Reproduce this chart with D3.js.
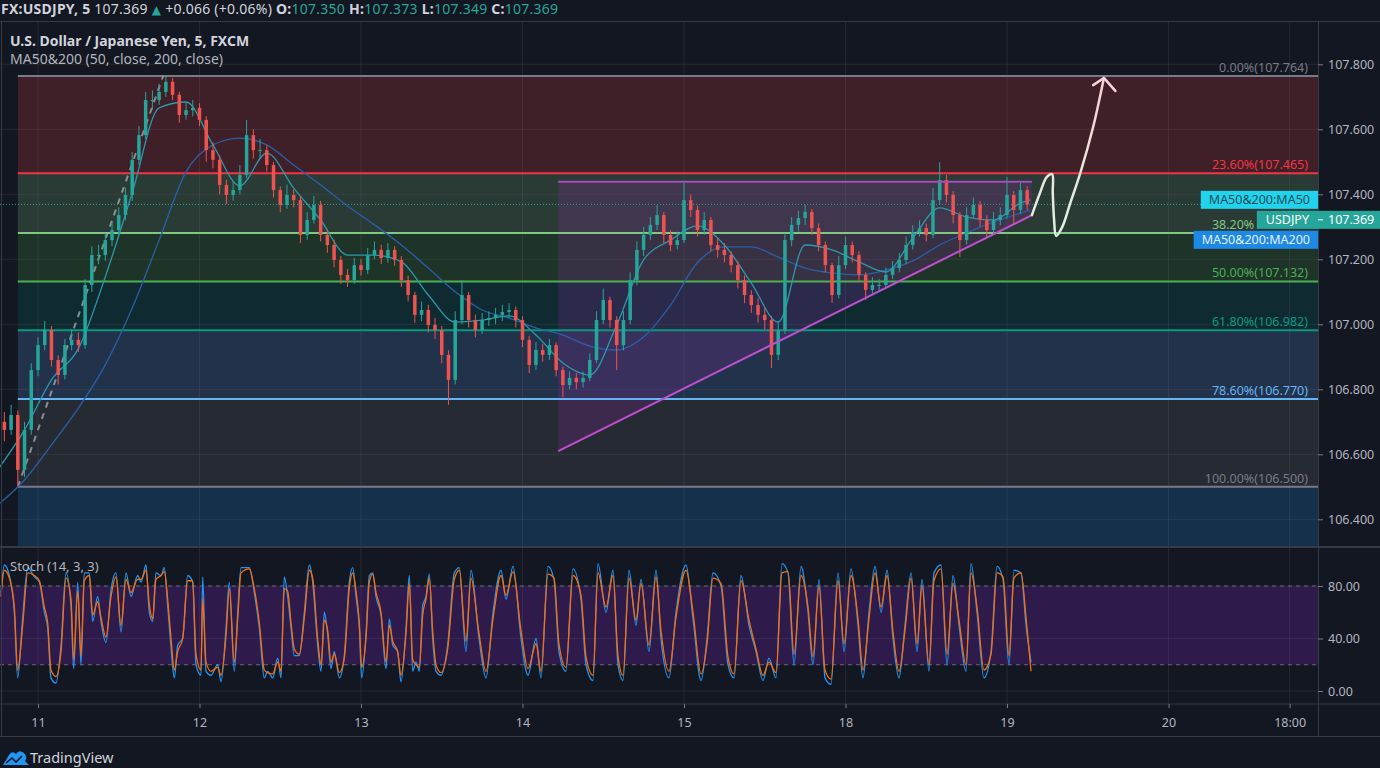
<!DOCTYPE html>
<html>
<head>
<meta charset="utf-8">
<script src="https://cdn.jsdelivr.net/npm/d3@7"></script>
<style>
  body { margin: 0; background: #131722; }
  svg { display: block; font-family: "Noto Sans", "DejaVu Sans", sans-serif; }
</style>
</head>
<body>
<svg id="chart" width="1380" height="768"></svg>
<script>
// ---- data (time is in trading hours from the 11th 00:00, weekend removed) ----
const candleStart = -5;          // hour of the first hourly candle
const firstOpen = 106.700;
const closes = [
  106.675, 106.721, 106.552, 106.675, 106.859,
  106.936, 106.982, 106.890, 106.844, 106.936, 106.952, 106.936, 107.121, 107.213, 107.213, 107.259, 107.290,
  107.336, 107.398, 107.506, 107.582, 107.690, 107.690, 107.715, 107.746, 107.706, 107.644, 107.659, 107.666,
  107.629, 107.536, 107.506, 107.429, 107.398, 107.413, 107.459, 107.582, 107.536, 107.536, 107.490, 107.413,
  107.367, 107.398, 107.382, 107.275, 107.321, 107.367, 107.275, 107.244, 107.198, 107.152, 107.136, 107.182,
  107.167, 107.213, 107.229, 107.204, 107.229, 107.198, 107.136, 107.090, 107.029, 107.044, 106.998, 106.982,
  106.906, 106.829, 107.013, 107.090, 107.013, 106.982, 107.013, 107.019, 107.029, 107.038, 107.044, 107.013,
  106.952, 106.875, 106.921, 106.906, 106.936, 106.859, 106.813, 106.835, 106.822, 106.835, 106.890, 107.013,
  107.075, 107.013, 106.936, 107.013, 107.136, 107.229, 107.275, 107.306, 107.336, 107.275, 107.244, 107.259,
  107.382, 107.352, 107.290, 107.321, 107.244, 107.229, 107.213, 107.182, 107.136, 107.090, 107.059, 107.029,
  107.013, 106.906, 106.982, 107.259, 107.306, 107.327, 107.346, 107.296, 107.244, 107.182, 107.090, 107.182,
  107.244, 107.213, 107.152, 107.106, 107.121, 107.121, 107.152, 107.173, 107.198, 107.244, 107.284, 107.296,
  107.275, 107.382, 107.444, 107.398, 107.336, 107.259, 107.336, 107.367, 107.321, 107.290, 107.321, 107.336,
  107.398, 107.352, 107.413, 107.369
];
const highs = [
  106.730, 106.752, 106.735, 106.700, 106.880,
  106.960, 107.010, 106.995, 106.905, 106.955, 106.985, 106.975, 107.140, 107.240, 107.245, 107.280, 107.315,
  107.360, 107.420, 107.530, 107.610, 107.715, 107.720, 107.740, 107.764, 107.758, 107.715, 107.685, 107.690,
  107.680, 107.640, 107.560, 107.520, 107.445, 107.440, 107.490, 107.629, 107.600, 107.570, 107.550, 107.500,
  107.425, 107.430, 107.415, 107.395, 107.345, 107.395, 107.380, 107.290, 107.260, 107.210, 107.170, 107.205,
  107.200, 107.235, 107.255, 107.245, 107.250, 107.240, 107.210, 107.150, 107.100, 107.070, 107.060, 107.020,
  106.995, 106.920, 107.040, 107.136, 107.100, 107.030, 107.035, 107.040, 107.050, 107.060, 107.065, 107.055,
  107.025, 106.965, 106.945, 106.940, 106.955, 106.945, 106.870, 106.855, 106.850, 106.855, 106.910, 107.040,
  107.110, 107.085, 107.025, 107.040, 107.160, 107.255, 107.300, 107.330, 107.367, 107.345, 107.290, 107.285,
  107.435, 107.400, 107.365, 107.345, 107.330, 107.265, 107.250, 107.225, 107.195, 107.150, 107.105, 107.080,
  107.050, 107.025, 107.010, 107.280, 107.330, 107.350, 107.367, 107.355, 107.310, 107.255, 107.190, 107.210,
  107.270, 107.255, 107.225, 107.160, 107.145, 107.140, 107.175, 107.195, 107.220, 107.270, 107.305, 107.320,
  107.310, 107.420, 107.499, 107.460, 107.410, 107.345, 107.360, 107.390, 107.380, 107.335, 107.345, 107.360,
  107.453, 107.410, 107.435, 107.425
];
const lows = [
  106.640, 106.660, 106.503, 106.530, 106.660,
  106.840, 106.920, 106.870, 106.815, 106.830, 106.920, 106.915, 106.925, 107.100, 107.185, 107.195, 107.240,
  107.275, 107.320, 107.380, 107.490, 107.570, 107.660, 107.675, 107.700, 107.690, 107.620, 107.630, 107.640,
  107.610, 107.500, 107.480, 107.400, 107.370, 107.380, 107.400, 107.450, 107.510, 107.510, 107.470, 107.390,
  107.345, 107.355, 107.360, 107.250, 107.260, 107.310, 107.255, 107.220, 107.175, 107.125, 107.115, 107.125,
  107.150, 107.155, 107.200, 107.185, 107.190, 107.180, 107.115, 107.070, 107.005, 107.010, 106.975, 106.955,
  106.880, 106.752, 106.815, 107.000, 106.990, 106.960, 106.970, 106.995, 107.000, 107.010, 107.020, 106.990,
  106.930, 106.850, 106.860, 106.885, 106.890, 106.840, 106.776, 106.800, 106.800, 106.805, 106.825, 106.880,
  107.000, 106.990, 106.859, 106.920, 107.000, 107.120, 107.210, 107.260, 107.290, 107.250, 107.225, 107.230,
  107.250, 107.330, 107.270, 107.275, 107.225, 107.205, 107.190, 107.160, 107.110, 107.065, 107.035, 107.005,
  106.985, 106.866, 106.890, 106.970, 107.240, 107.285, 107.305, 107.275, 107.225, 107.160, 107.066, 107.080,
  107.170, 107.190, 107.130, 107.075, 107.095, 107.100, 107.110, 107.140, 107.160, 107.185, 107.230, 107.270,
  107.255, 107.265, 107.370, 107.375, 107.310, 107.207, 107.245, 107.325, 107.300, 107.266, 107.280, 107.305,
  107.325, 107.306, 107.340, 107.350
];

const maHours = [-6, -2, 2, 6, 10, 14, 18, 22, 26, 30, 34, 38, 42, 46, 50, 54, 58, 62, 66, 70,
  74, 78, 82, 86, 90, 94, 98, 102, 106, 110, 114, 118, 122, 126, 130, 134, 138, 142, 146, 147.5];
const ma50 = [106.552, 106.675, 106.829, 106.925, 107.146, 107.404, 107.666, 107.684, 107.552, 107.426,
  107.527, 107.419, 107.321, 107.213, 107.213, 107.192, 107.090, 107.007, 107.013, 107.026,
  106.967, 106.881, 106.844, 106.998, 107.198, 107.259, 107.303, 107.244, 107.127, 107.007,
  107.244, 107.229, 107.192, 107.161, 107.266, 107.358, 107.330, 107.321, 107.373, 107.383];
const ma200 = [106.444, 106.521, 106.629, 106.742, 106.875, 107.050, 107.259, 107.469, 107.552, 107.573,
  107.552, 107.490, 107.429, 107.364, 107.306, 107.244, 107.173, 107.100, 107.044, 107.019,
  106.989, 106.967, 106.933, 106.921, 106.961, 107.059, 107.190, 107.238, 107.238, 107.207,
  107.173, 107.158, 107.152, 107.167, 107.195, 107.244, 107.281, 107.315, 107.342, 107.352];

const stochHours = [-5.5, -5.0, -4.26, -3.52, -3.02, -2.28, -1.53, -0.55, 0.2, 0.94, 1.44, 1.93, 2.67, 3.42,
  4.16, 4.9, 5.3, 5.9, 6.39, 6.88, 7.62, 8.13, 8.87, 9.36, 10.1, 10.85, 11.59, 12.33, 13.08, 13.82,
  14.81, 15.31, 16.05, 16.54, 17.04, 17.53, 18.28, 18.77, 19.27, 19.77, 20.26, 20.76, 21.5, 22.24,
  22.99, 23.48, 24.22, 24.47, 24.97, 25.71, 26.7, 27.2, 27.94, 28.43, 29.17, 29.68, 30.17, 31.4,
  32.14, 32.89, 33.63, 34.13, 34.88, 35.62, 36.11, 36.6, 37.1, 37.6, 38.09, 38.83, 39.58, 40.32,
  40.82, 41.56, 42.06, 42.55, 43.05, 43.54, 44.03, 44.78, 45.52, 46.26, 46.77, 47.26, 47.75, 48.1,
  48.74, 49.24, 49.74, 50.23, 50.97, 51.72, 52.21, 52.71, 53.45, 53.94, 54.69, 55.18, 55.68, 56.17,
  56.67, 57.17, 57.66, 58.15, 58.65, 59.15, 59.89, 60.88, 61.87, 62.61, 63.6, 64.35, 65.54, 66.58,
  67.62, 68.81, 69.55, 70.59, 71.78, 72.82, 74.01, 74.75, 75.79, 76.68, 77.42, 78.46, 79.5, 80.69,
  81.44, 82.48, 83.22, 84.41, 85.45, 86.19, 86.94, 87.83, 88.87, 89.61, 90.8, 91.84, 92.58, 93.77,
  94.81, 96.3, 97.34, 98.53, 99.42, 100.31, 101.5, 102.54, 103.43, 104.47, 105.66, 106.7, 107.74,
  108.63, 109.67, 110.56, 111.46, 112.35, 113.39, 114.43, 115.17, 116.06, 116.96, 117.85, 118.89,
  119.78, 120.82, 121.86, 122.6, 123.49, 124.39, 125.28, 126.17, 127.06, 127.95, 128.84, 129.74,
  130.63, 131.37, 132.41, 133.15, 134.19, 135.09, 135.98, 136.87, 137.91, 138.65, 139.54, 140.58,
  141.62, 142.52, 143.41, 144.3, 145.04, 146.08, 146.83, 147.57];
const stochK = [75, 96, 88, 60, 10, 56, 94, 87, 83, 60, 48, 10, 6, 35,
  90, 65, 17, 83, 20, 90, 90, 53, 72, 53, 37, 77, 90, 45, 90, 72,
  88, 83, 96, 60, 53, 90, 88, 94, 65, 33, 10, 35, 40, 88,
  83, 20, 12, 87, 15, 12, 20, 7, 48, 83, 15, 60, 94, 94,
  75, 48, 10, 15, 10, 25, 10, 87, 72, 48, 27, 27, 60, 96,
  83, 35, 15, 60, 43, 17, 30, 10, 27, 83, 94, 72, 48, 10,
  43, 88, 90, 72, 58, 17, 55, 35, 30, 7, 48, 88, 15, 22,
  15, 65, 72, 89, 40, 15, 12, 35, 90, 94, 30, 92, 40, 10,
  60, 92, 70, 95, 40, 12, 40, 10, 95, 85, 30, 15, 93, 70,
  20, 8, 97, 60, 92, 20, 8, 92, 50, 85, 30, 92, 40, 10,
  60, 96, 55, 8, 40, 90, 80, 20, 10, 88, 50, 30, 8,
  25, 10, 97, 90, 20, 95, 60, 20, 85, 10, 5, 90,
  30, 93, 50, 10, 60, 95, 60, 92, 40, 10, 50, 90,
  30, 85, 15, 90, 96, 20, 88, 50, 15, 97, 60, 10,
  30, 95, 85, 20, 92, 90, 50, 22];
const stochD = [72, 92, 86, 64, 16, 50, 90, 88, 84, 64, 52, 16, 11, 30,
  86, 70, 24, 76, 27, 84, 88, 58, 68, 56, 41, 72, 87, 50, 85, 75,
  85, 85, 92, 66, 55, 85, 88, 91, 70, 40, 16, 30, 40, 84,
  84, 28, 16, 70, 22, 15, 18, 12, 42, 78, 22, 55, 90, 93,
  78, 52, 16, 14, 13, 22, 15, 78, 76, 52, 32, 28, 56, 92,
  86, 40, 20, 54, 46, 22, 28, 14, 25, 78, 90, 76, 52, 18,
  40, 83, 89, 75, 60, 22, 50, 38, 30, 12, 44, 82, 24, 20,
  18, 58, 70, 86, 46, 20, 14, 32, 85, 92, 38, 86, 44, 15,
  55, 88, 73, 91, 46, 17, 36, 15, 89, 86, 36, 18, 88, 73,
  26, 12, 90, 64, 88, 27, 12, 86, 54, 82, 35, 87, 46, 15,
  56, 92, 60, 13, 36, 86, 82, 26, 13, 84, 54, 32, 12,
  22, 14, 90, 91, 28, 88, 64, 26, 80, 16, 9, 84,
  36, 88, 55, 16, 55, 90, 64, 88, 45, 15, 46, 86,
  36, 80, 20, 84, 93, 28, 82, 54, 20, 90, 64, 16,
  28, 90, 87, 27, 86, 90, 56, 15];

const fibLevels = ["0.00%", "23.60%", "38.20%", "50.00%", "61.80%", "78.60%", "100.00%"];
const fibPrices = [107.764, 107.465, 107.281, 107.132, 106.982, 106.770, 106.500];
const fibLineColors = ["#787b86", "#f23645", "#81c784", "#4caf50", "#089981", "#64b5f6", "#787b86"];
const fibFills = ["#3f1f28", "#2a3a35", "#1f3429", "#0f2b31", "#22324a", "#262a33", "#15304b"];
const fibStartHour = -3, fibEndHour = 18.6;

const triLeftHour = 77.3, triRightHour = 147.7;
const triTop = 107.439, triBottomLeft = 106.610, triBottomRight = 107.336;

const arrowHours = [147.7, 148.9, 149.9, 150.7, 150.8, 151.0, 151.3, 152.2, 153.4, 154.9, 156.8, 158.4];
const arrowPrices = [107.336, 107.404, 107.453, 107.462, 107.404, 107.321, 107.272, 107.299, 107.373, 107.466, 107.607, 107.758];
const arrowWingHours = [156.8, 160.1];
const arrowWingPrices = [107.736, 107.718];

const tickHours = [0, 24, 48, 72, 96, 120, 144, 168, 186];
const tickLabels = ["11", "12", "13", "14", "15", "18", "19", "20", "18:00"];
const priceTicks = [106.4, 106.6, 106.8, 107.0, 107.2, 107.4, 107.6, 107.8];
const stochTicks = [0, 40, 80];

// ---- layout ----
const axisX = 1318, mainTop = 22, mainBottom = 546, stochTop = 548, stochBottom = 704;
const svg = d3.select("#chart");
svg.append("rect").attr("width", 1380).attr("height", 768).attr("fill", "#131722");

const x = d3.scaleLinear().domain([0, 24]).range([38, 199.5]);
const yP = d3.scaleLinear().domain([106.4, 107.8]).range([519.3, 64.3]);
const yS = d3.scaleLinear().domain([0, 100]).range([691, 559.75]);

const defs = svg.append("defs");
defs.append("clipPath").attr("id", "mainClip").append("rect")
  .attr("x", 0).attr("y", mainTop).attr("width", axisX).attr("height", mainBottom - mainTop);
defs.append("clipPath").attr("id", "stochClip").append("rect")
  .attr("x", 0).attr("y", stochTop).attr("width", axisX).attr("height", stochBottom - stochTop);

const main = svg.append("g").attr("clip-path", "url(#mainClip)");
const stoch = svg.append("g").attr("clip-path", "url(#stochClip)");

// fib zones
const fx0 = x(fibStartHour);
fibPrices.forEach((p, i) => {
  const yTop = yP(p);
  const yBot = i < fibPrices.length - 1 ? yP(fibPrices[i + 1]) : mainBottom;
  main.append("rect").attr("x", fx0).attr("y", yTop).attr("width", axisX - fx0)
    .attr("height", yBot - yTop).attr("fill", fibFills[i]);
});

// grid
const gridColor = "rgba(120,123,134,0.16)";
main.selectAll(".hg").data(priceTicks).join("line")
  .attr("x1", 0).attr("x2", axisX).attr("y1", d => yP(d)).attr("y2", d => yP(d))
  .attr("stroke", gridColor);
[main, stoch].forEach(g => g.selectAll(".vg").data(tickHours).join("line")
  .attr("x1", d => x(d)).attr("x2", d => x(d)).attr("y1", 0).attr("y2", 768)
  .attr("stroke", gridColor));

// triangle pattern fill
const triPts = [[triLeftHour, triTop], [triRightHour, triTop], [triRightHour, triBottomRight], [triLeftHour, triBottomLeft]];
main.append("polygon").attr("points", triPts.map(d => [x(d[0]), yP(d[1])].join(",")).join(" "))
  .attr("fill", "rgba(156,39,176,0.2)");

// fib lines
fibPrices.forEach((p, i) => {
  main.append("line").attr("x1", fx0).attr("x2", axisX).attr("y1", yP(p)).attr("y2", yP(p))
    .attr("stroke", fibLineColors[i]).attr("stroke-width", 2);
});
// fib anchor (dashed)
main.append("line").attr("x1", x(fibStartHour)).attr("y1", yP(fibPrices[6]))
  .attr("x2", x(fibEndHour)).attr("y2", yP(fibPrices[0]))
  .attr("stroke", "rgba(180,183,190,0.7)").attr("stroke-width", 2).attr("stroke-dasharray", "6,6");

// moving averages
const maLine = d3.line().curve(d3.curveMonotoneX);
main.append("path").attr("d", maLine(maHours.map((h, i) => [x(h), yP(ma200[i])])))
  .attr("fill", "none").attr("stroke", "#2a5fa6").attr("stroke-width", 1.3);
main.append("path").attr("d", maLine(maHours.map((h, i) => [x(h), yP(ma50[i])])))
  .attr("fill", "none").attr("stroke", "#2c97ad").attr("stroke-width", 1.3);

// candles
const candles = closes.map((c, i) => ({
  h: candleStart + i, o: i ? closes[i - 1] : firstOpen, c, hi: highs[i], lo: lows[i]
}));
const cg = main.append("g");
cg.selectAll("line").data(candles).join("line")
  .attr("x1", d => x(d.h)).attr("x2", d => x(d.h))
  .attr("y1", d => yP(d.hi)).attr("y2", d => yP(d.lo))
  .attr("stroke", d => d.c >= d.o ? "#26a69a" : "#ef5350");
cg.selectAll("rect").data(candles).join("rect")
  .attr("x", d => x(d.h) - 1.75).attr("width", 3.5)
  .attr("y", d => yP(Math.max(d.o, d.c)))
  .attr("height", d => Math.max(1, Math.abs(yP(d.o) - yP(d.c))))
  .attr("fill", d => d.c >= d.o ? "#26a69a" : "#ef5350");

// triangle lines
main.append("line").attr("x1", x(triLeftHour)).attr("x2", x(triRightHour))
  .attr("y1", yP(triTop)).attr("y2", yP(triTop)).attr("stroke", "#a94bc0").attr("stroke-width", 2);
main.append("line").attr("x1", x(triLeftHour)).attr("y1", yP(triBottomLeft))
  .attr("x2", x(triRightHour)).attr("y2", yP(triBottomRight)).attr("stroke", "#c050d0").attr("stroke-width", 2);

// last price line
const lastClose = closes[closes.length - 1];
main.append("line").attr("x1", 0).attr("x2", axisX).attr("y1", yP(lastClose)).attr("y2", yP(lastClose))
  .attr("stroke", "#26a69a").attr("stroke-dasharray", "1,2");

// projected path arrow
const grad = defs.append("linearGradient").attr("id", "arrowGrad").attr("gradientUnits", "userSpaceOnUse")
  .attr("x1", 0).attr("x2", 0).attr("y1", yP(107.27)).attr("y2", yP(107.76));
grad.append("stop").attr("offset", "0%").attr("stop-color", "#dff3e2");
grad.append("stop").attr("offset", "100%").attr("stop-color", "#f7cfd4");
const arrowLine = d3.line().curve(d3.curveCatmullRom.alpha(0.5));
main.append("path").attr("d", arrowLine(arrowHours.map((h, i) => [x(h), yP(arrowPrices[i])])))
  .attr("fill", "none").attr("stroke", "url(#arrowGrad)").attr("stroke-width", 2.5).attr("stroke-linecap", "round");
const tip = [x(arrowHours[arrowHours.length - 1]), yP(arrowPrices[arrowPrices.length - 1])];
arrowWingHours.forEach((h, i) => {
  main.append("line").attr("x1", tip[0]).attr("y1", tip[1]).attr("x2", x(h)).attr("y2", yP(arrowWingPrices[i]))
    .attr("stroke", "#f7d5d9").attr("stroke-width", 2.5).attr("stroke-linecap", "round");
});

// ---- stochastic pane ----
stoch.append("rect").attr("x", 0).attr("width", axisX).attr("y", yS(80)).attr("height", yS(20) - yS(80))
  .attr("fill", "rgba(126,40,200,0.25)");
stoch.selectAll(".sg").data(stochTicks).join("line")
  .attr("x1", 0).attr("x2", axisX).attr("y1", d => yS(d)).attr("y2", d => yS(d)).attr("stroke", gridColor);
[20, 80].forEach(v => stoch.append("line").attr("x1", 0).attr("x2", axisX).attr("y1", yS(v)).attr("y2", yS(v))
  .attr("stroke", "#787b86").attr("stroke-dasharray", "4,4").attr("stroke-opacity", 0.8));
const sLine = d3.line().curve(d3.curveMonotoneX);
stoch.append("path").attr("d", sLine(stochHours.map((h, i) => [x(h), yS(stochK[i])])))
  .attr("fill", "none").attr("stroke", "#2196f3").attr("stroke-width", 1.3);
stoch.append("path").attr("d", sLine(stochHours.map((h, i) => [x(h), yS(stochD[i])])))
  .attr("fill", "none").attr("stroke", "#ff6d00").attr("stroke-width", 1.3);

// ---- frame ----
const frame = "#363a45";
svg.append("line").attr("x1", 0).attr("x2", 1380).attr("y1", 21.5).attr("y2", 21.5).attr("stroke", frame);
svg.append("line").attr("x1", 0).attr("x2", 1380).attr("y1", 547).attr("y2", 547).attr("stroke", frame).attr("stroke-width", 2);
svg.append("line").attr("x1", 0).attr("x2", 1380).attr("y1", stochBottom).attr("y2", stochBottom).attr("stroke", frame);
svg.append("line").attr("x1", 0).attr("x2", 1380).attr("y1", 736.5).attr("y2", 736.5).attr("stroke", frame);
svg.append("line").attr("x1", 1.5).attr("x2", 1.5).attr("y1", 21.5).attr("y2", 736.5).attr("stroke", frame);
svg.append("line").attr("x1", axisX + 0.5).attr("x2", axisX + 0.5).attr("y1", 21.5).attr("y2", 736.5).attr("stroke", frame);

// ---- axes ----
function styleAxis(g) {
  g.select(".domain").remove();
  g.selectAll(".tick line").attr("stroke", "#787b86");
  g.selectAll(".tick text").attr("fill", "#b2b5be").attr("font-size", 12.5)
    .attr("font-family", "'Noto Sans', sans-serif");
}
svg.append("g").attr("transform", `translate(${axisX},0)`)
  .call(d3.axisRight(yP).tickValues(priceTicks).tickFormat(d3.format(".3f")).tickSize(5).tickPadding(5))
  .call(styleAxis);
svg.append("g").attr("transform", `translate(${axisX},0)`)
  .call(d3.axisRight(yS).tickValues(stochTicks).tickFormat(d3.format(".2f")).tickSize(5).tickPadding(5))
  .call(styleAxis);
svg.append("g").attr("transform", `translate(0,${stochBottom})`)
  .call(d3.axisBottom(x).tickValues(tickHours).tickFormat((d, i) => tickLabels[i]).tickSize(4).tickPadding(10))
  .call(styleAxis);

// ---- right-side value labels ----
function stack(items, gap) {
  items.sort((a, b) => a.y - b.y);
  for (let i = 1; i < items.length; i++) if (items[i].y < items[i - 1].y + gap) items[i].y = items[i - 1].y + gap;
  return items;
}
const priceLabels = stack([
  { y: yP(ma50[ma50.length - 1]), text: "MA50&200:MA50", bg: "#22d3ee", fg: "#1b4d57", kind: "ma" },
  { y: yP(lastClose), text: "USDJPY", bg: "#26a69a", fg: "#ffffff", kind: "sym" },
  { y: yP(ma200[ma200.length - 1]), text: "MA50&200:MA200", bg: "#1e88e5", fg: "#e3f2fd", kind: "ma" }
], 20);
const boxes = [];
const fibLabelLayer = svg.append("g");   // fib texts sit below the value tags
const labelLayer = svg.append("g");
priceLabels.forEach(l => {
  const g = labelLayer.append("g");
  const t = g.append("text").attr("y", l.y + 4.5).attr("font-size", 12.5).attr("fill", l.fg).text(l.text);
  const w = t.node().getComputedTextLength();
  const x0 = l.kind === "ma" ? axisX - w - 16 : axisX - w - 18;
  boxes.push({ x0, y0: l.y - 9, y1: l.y + 9 });
  if (l.kind === "ma") {
    g.insert("rect", "text").attr("x", x0).attr("y", l.y - 9).attr("width", axisX - x0).attr("height", 18).attr("fill", l.bg);
    t.attr("x", x0 + 8);
  } else {
    g.insert("rect", "text").attr("x", x0).attr("y", l.y - 9).attr("width", 1380 - x0).attr("height", 18).attr("fill", l.bg);
    t.attr("x", x0 + 9);
    g.append("line").attr("x1", axisX).attr("x2", axisX + 5).attr("y1", l.y).attr("y2", l.y).attr("stroke", "#ffffff");
    g.append("text").attr("x", axisX + 10).attr("y", l.y + 4.5).attr("font-size", 12.5).attr("fill", "#ffffff")
      .text(lastClose.toFixed(3));
  }
});

// fib labels (a label hidden under a value tag is cut where the tag starts)
fibPrices.forEach((p, i) => {
  const ty = yP(p) - 4;
  const hit = boxes.filter(b => ty - 9 < b.y1 && ty > b.y0 + 2);
  const cutX = hit.length ? d3.min(hit, b => b.x0) : axisX;
  const full = fibLevels[i] + "(" + p.toFixed(3) + ")";
  const t = fibLabelLayer.append("text").attr("x", 1308).attr("y", ty).attr("text-anchor", "end")
    .attr("font-size", 12.5).attr("fill", fibLineColors[i]).text(full);
  if (cutX < 1308) {
    const start = 1308 - t.node().getComputedTextLength();
    let n = full.length;
    while (n > 0 && start + t.node().getSubStringLength(0, n) > cutX - 2) n--;
    t.attr("text-anchor", "start").attr("x", start).text(full.slice(0, n));
  }
});

// ---- texts ----
const hdr = svg.append("text").attr("x", 1).attr("y", 14).attr("font-size", 14).attr("fill", "#d1d4dc")
  .attr("letter-spacing", 0.25);
[
  ["FX:USDJPY, 5 ", 700, "#d1d4dc"], ["107.369 ", 400, "#d1d4dc"], ["\u25B2", 400, "#26a69a"],
  [" +0.066 (+0.06%) ", 400, "#d1d4dc"],
  ["O:", 700, "#d1d4dc"], ["107.350 ", 400, "#26a69a"], ["H:", 700, "#d1d4dc"], ["107.373 ", 400, "#26a69a"],
  ["L:", 700, "#d1d4dc"], ["107.349 ", 400, "#26a69a"], ["C:", 700, "#d1d4dc"], ["107.369", 400, "#26a69a"]
].forEach(([s, w, c]) => hdr.append("tspan").attr("font-weight", w).attr("fill", c)
  .attr("font-size", s === "\u25B2" ? 12 : 14).text(s));

svg.append("text").attr("x", 10).attr("y", 46).attr("font-size", 14).attr("font-weight", 700)
  .attr("fill", "#d1d4dc").text("U.S. Dollar / Japanese Yen, 5, FXCM");
svg.append("text").attr("x", 10).attr("y", 64).attr("font-size", 14)
  .attr("fill", "#b2b5be").text("MA50&200 (50, close, 200, close)");
svg.append("text").attr("x", 10).attr("y", 571).attr("font-size", 13)
  .attr("fill", "#b2b5be").text("Stoch (14, 3, 3)");

// TradingView logo
const logo = svg.append("g").attr("transform", "translate(3,749)");
logo.append("path").attr("d", "M0,16 L6,6 Q9,1 13,5 Q16,0 21,4 Q25,8 22,12 L26,16 Z").attr("fill", "#2196f3");
logo.append("path").attr("d", "M3,14 L9,9 L13,13 L19,7").attr("fill", "none").attr("stroke", "#131722").attr("stroke-width", 1.6);
svg.append("text").attr("x", 30).attr("y", 763).attr("font-size", 14.5).attr("fill", "#d1d4dc").text("TradingView");
</script>
</body>
</html>
